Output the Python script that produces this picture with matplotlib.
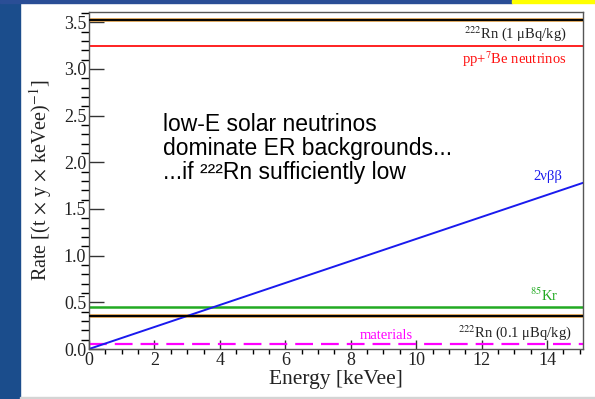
import numpy as np
import matplotlib
matplotlib.use('Agg')
import matplotlib.pyplot as plt
from matplotlib.patches import Rectangle

plt.rcParams['font.family'] = ['Liberation Serif', 'DejaVu Serif']
plt.rcParams['mathtext.fontset'] = 'stix'

# background levels, rate in (t x y x keVee)^-1
rn_high = 3.52      # 222Rn at 1 uBq/kg
pp_be7 = 3.25       # pp + 7Be solar neutrinos
kr85 = 0.45
rn_low = 0.352      # 222Rn at 0.1 uBq/kg
materials = 0.05

# 2 neutrino double beta spectrum (linear in this window)
e_2vbb = [0.0, 15.1]
rate_2vbb = [0.0, 1.78]

e_range = [0.0, 15.1]
xticks = [0, 2, 4, 6, 8, 10, 12, 14]
yticks = [0.0, 0.5, 1.0, 1.5, 2.0, 2.5, 3.0, 3.5]

fig = plt.figure(figsize=(5.95, 3.99), dpi=100)
fig.patch.set_facecolor('white')

# slide decorations around the plot
fig.patches.append(Rectangle((0, 0), 20/595, 1, transform=fig.transFigure, color='#1b4d8c', zorder=0))
fig.patches.append(Rectangle((0, 1-3/399), 512/595, 3/399, transform=fig.transFigure, color='#2a4e96', zorder=0))
fig.patches.append(Rectangle((512/595, 1-3/399), 83/595, 3/399, transform=fig.transFigure, color='#ffff00', zorder=0))
fig.patches.append(Rectangle((20/595, 0), 575/595, 2/399, transform=fig.transFigure, color='#d4d4d4', zorder=0))

ax = fig.add_axes([89/595, 1-349/399, 494/595, 337/399])

ax.plot(e_range, [rn_high]*2, color='#dba45a', lw=2.8, zorder=2)
ax.plot(e_range, [rn_high]*2, color='black', lw=1.4, zorder=3)
ax.plot(e_range, [pp_be7]*2, color='#ff1010', lw=1.3)
ax.plot(e_range, [kr85]*2, color='#22aa22', lw=1.8)
ax.plot(e_range, [rn_low]*2, color='#dba45a', lw=2.8, zorder=2)
ax.plot(e_range, [rn_low]*2, color='black', lw=1.4, zorder=3)
ax.plot(e_range, [materials]*2, color='#ff00ff', lw=1.6, linestyle=(0, (8, 3.6)))
ax.plot(e_2vbb, rate_2vbb, color='#1a1aee', lw=1.4)

ax.set_xlim(e_range)
ax.set_ylim(0, 3.61)

ax.set_xticks(xticks)
ax.set_xticklabels([str(t) for t in xticks])
ax.set_xticks(np.arange(0, 15.1, 0.5), minor=True)
ax.set_yticks(yticks)
ax.set_yticklabels(['%.1f' % t for t in yticks])
ax.set_yticks(np.arange(0, 3.61, 0.1), minor=True)

ax.tick_params(axis='both', direction='in', labelsize=13, colors='#333333', labelcolor='#222222')
ax.tick_params(axis='y', which='major', length=11, width=1, pad=2)
ax.tick_params(axis='y', which='minor', length=5.5, width=1)
ax.tick_params(axis='x', which='major', length=6.5, width=1, pad=2)
ax.tick_params(axis='x', which='minor', length=3.5, width=1)
for s in ax.spines.values():
    s.set_color('#555555')
    s.set_linewidth(1)

ax.set_xlabel('Energy [keVee]', fontsize=15.5, color='#222222', labelpad=1)
ax.set_ylabel(r'Rate [(t$\,\times\,$y$\,\times\,$keVee)$^{-1}$]', fontsize=14.5, color='#222222', labelpad=7)

lab = dict(fontsize=10.5, ha='right', va='center')
ax.text(14.6, 3.38, r'$^{222}$Rn (1 μBq/kg)', color='#222222', **lab)
ax.text(14.6, 3.10, r'pp+$^{7}$Be neutrinos', color='#ff1010', **lab)
ax.text(14.47, 1.85, r'2νββ', color='#1a1aee', **lab)
ax.text(14.35, 0.57, r'$^{85}$Kr', color='#22aa22', **lab)
ax.text(14.75, 0.18, r'$^{222}$Rn (0.1 μBq/kg)', color='#222222', **lab)
ax.text(9.1, 0.14, 'materials', color='#ff00ff', fontsize=10.5, ha='center', va='center')

ax.text(2.26, 2.53, 'low-E solar neutrinos\ndominate ER backgrounds...\n...if ²²²Rn sufficiently low',
        fontsize=16.5, family='Liberation Sans', color='black', ha='left', va='top',
        linespacing=1.05)

fig.savefig('out.png', dpi=100)
